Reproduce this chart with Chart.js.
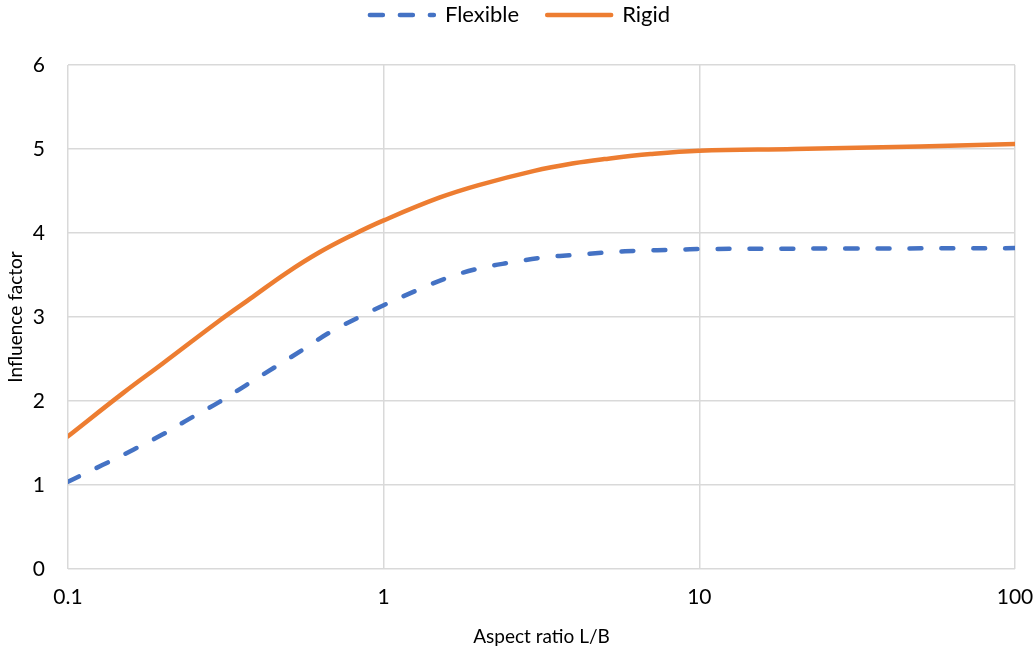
<!DOCTYPE html>
<html>
<head>
<meta charset="utf-8">
<script src="https://cdn.jsdelivr.net/npm/chart.js@4/dist/chart.umd.min.js"></script>
<style>
  html, body { margin: 0; padding: 0; background: #fff; }
  #wrap { width: 1034px; height: 650px; }
</style>
</head>
<body>
<div id="wrap"><canvas id="c" width="1034" height="650"></canvas></div>
<script>
const xTicks = [0.1, 1, 10, 100];
const yTicks = [0, 1, 2, 3, 4, 5, 6];

const flexibleX = [0.1, 0.129, 0.161, 0.199, 0.243, 0.302, 0.367, 0.451, 0.554, 0.677, 0.838, 1, 1.28, 1.6, 2.01, 2.54, 3.22, 4.06, 5.18, 6.53, 8.3, 10.5, 30, 100];
const flexibleY = [1.04, 1.24, 1.42, 1.60, 1.79, 1.99, 2.19, 2.40, 2.61, 2.82, 3.00, 3.14, 3.32, 3.47, 3.58, 3.65, 3.71, 3.74, 3.77, 3.79, 3.80, 3.81, 3.815, 3.82];

const rigidX = [0.1, 0.15, 0.2, 0.3, 0.385, 0.49, 0.626, 0.8, 1, 1.5, 2, 3, 4, 5, 7, 10, 20, 50, 100];
const rigidY = [1.58, 2.10, 2.45, 2.95, 3.24, 3.52, 3.77, 3.98, 4.15, 4.42, 4.57, 4.74, 4.83, 4.88, 4.94, 4.98, 5.00, 5.03, 5.06];

const FONT = "Lato, 'Open Sans', sans-serif";

const toPts = (xs, ys) => xs.map((x, i) => ({ x: x, y: ys[i] }));

const legendSpacer = {
  id: 'legendSpacer',
  afterInit(chart) {
    const lg = chart.legend;
    if (!lg) return;
    const origFit = lg.fit;
    lg.fit = function () { origFit.call(this); this.height = 84; };
    const origDraw = lg.draw;
    lg.draw = function () {
      const ctx = this.ctx;
      ctx.save();
      ctx.translate(12.5, -5);
      origDraw.call(this);
      ctx.restore();
    };
  }
};

new Chart(document.getElementById('c'), {
  type: 'scatter',
  data: {
    datasets: [
      {
        label: 'Flexible',
        data: toPts(flexibleX, flexibleY),
        showLine: true,
        borderColor: '#4472C4',
        backgroundColor: '#4472C4',
        borderWidth: 4.5,
        borderDash: [12, 20],
        borderCapStyle: 'round',
        pointRadius: 0,
        tension: 0.4
      },
      {
        label: 'Rigid',
        data: toPts(rigidX, rigidY),
        showLine: true,
        borderColor: '#ED7D31',
        backgroundColor: '#ED7D31',
        borderWidth: 4.5,
        borderCapStyle: 'round',
        pointRadius: 0,
        tension: 0.4
      }
    ]
  },
  plugins: [legendSpacer],
  options: {
    responsive: false,
    animation: false,
    layout: { padding: { left: 0, right: 19, top: -19, bottom: 0 } },
    plugins: {
      legend: {
        position: 'top',
        labels: {
          usePointStyle: true,
          pointStyle: 'line',
          pointStyleWidth: 64,
          boxWidth: 64,
          boxHeight: 10,
          color: '#000',
          padding: 28,
          font: { family: FONT, size: 22 },
          generateLabels: (chart) => {
            const items = Chart.defaults.plugins.legend.labels.generateLabels(chart);
            items.forEach((it) => {
              const ds = chart.data.datasets[it.datasetIndex];
              it.lineDash = ds.borderDash ? [13, 17] : [];
              it.lineCap = 'round';
              it.lineWidth = 4.5;
              it.strokeStyle = ds.borderColor;
              it.pointStyle = 'line';
            });
            return items;
          }
        }
      },
      tooltip: { enabled: false }
    },
    scales: {
      x: {
        type: 'logarithmic',
        min: 0.1,
        max: 100,
        afterBuildTicks: (s) => { s.ticks = xTicks.map(v => ({ value: v })); },
        afterFit: (s) => { s.height = 81; s.paddingRight = 0; s.paddingLeft = 0; },
        ticks: {
          color: '#000',
          font: { family: FONT, size: 21 },
          padding: 16,
          maxRotation: 0,
          callback: (v) => String(v)
        },
        grid: { color: '#d9d9d9', lineWidth: 1.5, drawTicks: false },
        border: { display: false },
        title: {
          display: true,
          text: 'Aspect ratio L/B',
          color: '#000',
          font: { family: FONT, size: 19 },
          padding: { top: 10, bottom: 2 }
        }
      },
      y: {
        min: 0,
        max: 6,
        afterBuildTicks: (s) => { s.ticks = yTicks.map(v => ({ value: v })); },
        afterFit: (s) => { s.width = 68; },
        ticks: {
          color: '#000',
          font: { family: FONT, size: 21 },
          padding: 23
        },
        grid: { color: '#d9d9d9', lineWidth: 1.5, drawTicks: false },
        border: { display: false },
        title: {
          display: true,
          text: 'Influence factor',
          color: '#000',
          font: { family: FONT, size: 19 },
          padding: { top: 4, bottom: 4 }
        }
      }
    }
  }
});
</script>
</body>
</html>
